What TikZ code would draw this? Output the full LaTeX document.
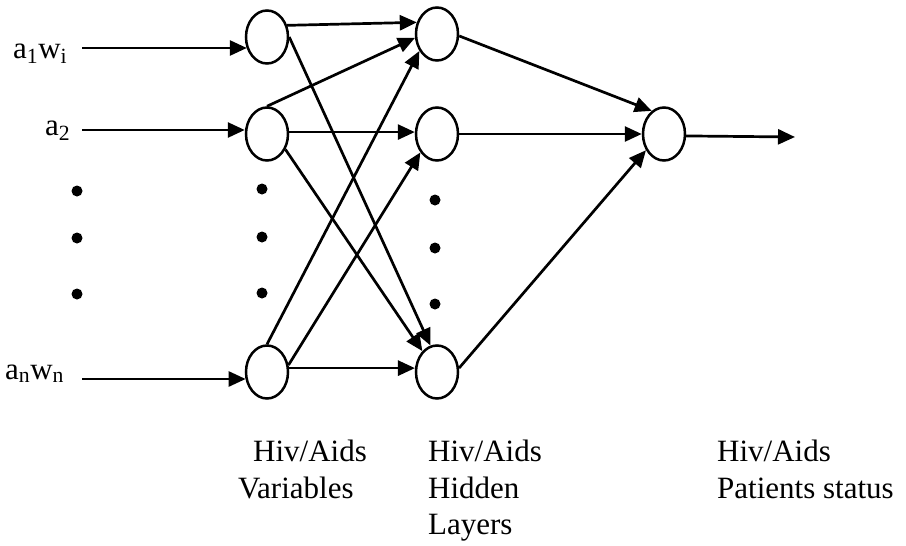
\documentclass[tikz,border=0pt]{standalone}
\usepackage{fontspec}
\setmainfont{Liberation Serif}
\usetikzlibrary{shapes.geometric,arrows.meta}

\begin{document}
\begin{tikzpicture}[x=1pt,y=-1pt,
  neuron/.style={draw, ellipse, line width=2.5pt, minimum width=42pt, minimum height=53pt, inner sep=0pt},
  conn/.style={line width=2.7pt, -{Triangle[length=17pt,width=15pt]}},
  lab/.style={font=\fontsize{31}{36.5}\selectfont, inner sep=0pt}]
  \useasboundingbox (0,0) rectangle (906,546);

  % input layer
  \node[neuron] (i1) at (267,37) {};
  \node[neuron] (i2) at (267,134) {};
  \node[neuron] (i3) at (267,372) {};

  % hidden layer
  \node[neuron] (h1) at (437,34) {};
  \node[neuron] (h2) at (437,134) {};
  \node[neuron] (h3) at (437,372) {};

  % output
  \node[neuron] (o) at (664,134) {};
  \coordinate (res) at (795,137);

  % inputs
  \node[lab, anchor=base west] (l1) at (13,58) {a\textsubscript{1}w\textsubscript{i}};
  \node[lab, anchor=base west] (l2) at (45,135) {a\textsubscript{2}};
  \node[lab, anchor=base west] (l3) at (5,379) {a\textsubscript{n}w\textsubscript{n}};
  \coordinate (s1) at (82,48);
  \coordinate (s2) at (82,130);
  \coordinate (s3) at (82,379);
  \draw[conn] (s1) -- (s1 -| i1.210);
  \draw[conn] (s2) -- (s2 -| i2.west);
  \draw[conn] (s3) -- (s3 -| i3.200);

  % dots
  \foreach \x/\y in {77/191, 77/238, 77/294, 262/189, 262/237, 262/293, 435/200, 435/248, 435/304}
    \fill (\x,\y) circle (5.5);

  % input -> hidden
  \draw[conn] (i1.30) -- (h1.150);
  \draw[conn] (i1.east) -- (h3.104);
  \draw[conn] (i2.north) -- (h1.190);
  \draw[conn] (i2.5) -- (h2.175);
  \draw[conn] (i2.-40) -- (h3.125);
  \draw[conn] (i3.north) -- (h1.224);
  \draw[conn] (i3.18) -- (h2.228);
  \draw[conn] (i3.10) -- (h3.170);

  % hidden -> output
  \draw[conn] (h1.-5) -- (o.118);
  \draw[conn] (h2.east) -- (o.west);
  \draw[conn] (h3.10) -- (o.222);
  \draw[conn] (o.-5) -- (res);

  % layer captions
  \node[lab, anchor=north west, align=left] (cap1) at (238,440) {\hspace*{15pt}Hiv/Aids\\Variables};
  \node[lab, anchor=north west, align=left] (cap2) at (428,440) {Hiv/Aids\\Hidden\\Layers};
  \node[lab, anchor=north west, align=left] (cap3) at (717,440) {Hiv/Aids\\Patients status};
\end{tikzpicture}
\end{document}
